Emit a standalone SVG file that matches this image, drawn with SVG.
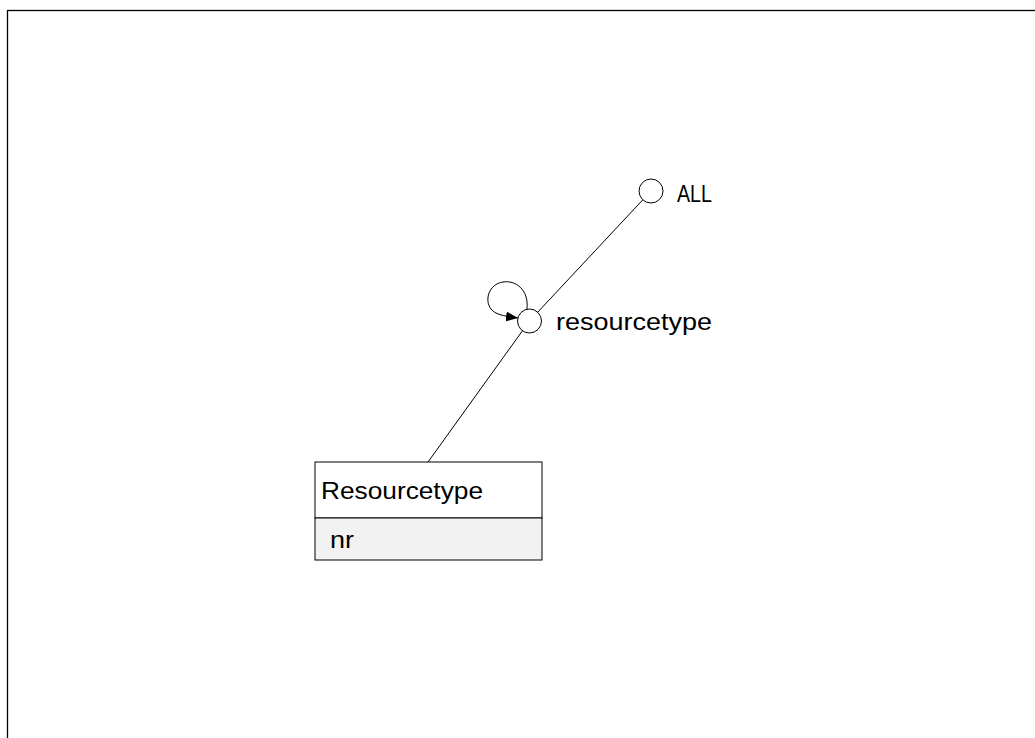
<svg xmlns="http://www.w3.org/2000/svg" width="1035" height="738" viewBox="0 0 1035 738">
  <style>
    .frame { fill: none; stroke: #000; stroke-width: 1.3; }
    .edge { fill: none; stroke: #000; stroke-width: 1; }
    .level { fill: #fff; stroke: #000; stroke-width: 1; }
    .box { stroke: #000; stroke-width: 1; }
    .label { font-family: "Liberation Sans", Arial, sans-serif; font-size: 24px; fill: #000; }
  </style>
  <defs>
    <marker id="arrow" markerUnits="userSpaceOnUse" viewBox="0 0 12 10" refX="12" refY="5" markerWidth="12" markerHeight="10" orient="auto">
      <path d="M0,0 L12,5 L0,10 z" fill="#000"/>
    </marker>
  </defs>

  <rect class="frame" x="7.5" y="10.5" width="1040" height="740"/>

  <g id="connectors">
    <line class="edge" x1="642.8" y1="199.8" x2="537.7" y2="312.2"/>
    <line class="edge" x1="522.5" y1="330.7" x2="428" y2="462"/>
    <path class="edge" d="M 527 309 C 529 289, 515 280, 503 282 C 489 284, 484 300, 491 309 C 495 314, 502 316, 518 318" marker-end="url(#arrow)"/>
  </g>

  <g id="node-all">
    <circle class="level" cx="651" cy="191" r="12"/>
    <text class="label" x="677" y="201.5" textLength="35" lengthAdjust="spacingAndGlyphs">ALL</text>
  </g>

  <g id="node-resourcetype">
    <circle class="level" cx="529.5" cy="321" r="12"/>
    <text class="label" x="556" y="330" textLength="156" lengthAdjust="spacingAndGlyphs">resourcetype</text>
  </g>

  <g id="table-resourcetype">
    <rect class="box" x="315" y="462" width="227" height="56" fill="#fff"/>
    <rect class="box" x="315" y="518" width="227" height="42" fill="#f2f2f2"/>
    <text class="label" x="321" y="499" textLength="162" lengthAdjust="spacingAndGlyphs">Resourcetype</text>
    <text class="label" x="330" y="548" textLength="24" lengthAdjust="spacingAndGlyphs">nr</text>
  </g>
</svg>
